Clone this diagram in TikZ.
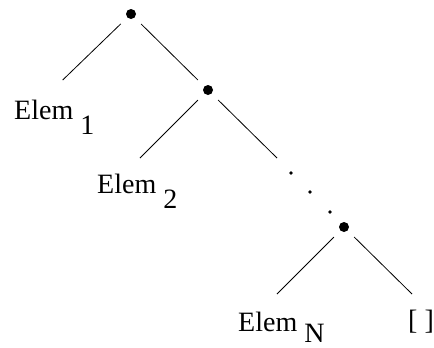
\documentclass[tikz,border=0pt]{standalone}
\usepackage{fontspec}
\setmainfont{Liberation Serif}
\usepackage{tikz}
\usetikzlibrary{positioning}

\begin{document}
\begin{tikzpicture}[
    x=1pt, y=-1pt,
    dot/.style={circle, fill=black, inner sep=0pt, minimum size=10pt},
    tinydot/.style={circle, fill=black, inner sep=0pt, minimum size=3.6pt},
    branch/.style={line width=0.8pt, shorten <=9pt},
    leaf/.style={anchor=base west, inner sep=0pt, font=\fontsize{28}{30}\selectfont}
]
    \useasboundingbox (0,0) rectangle (434,348);

    % cons cells
    \node[dot] (cons1) at (131,14) {};
    \node[dot] (cons2) at (208,90) {};
    \node[dot] (consN) at (344,227) {};

    % the dots in between
    \node[tinydot] (gap1) at (291,173) {};
    \node[tinydot] (gap2) at (310,192) {};
    \node[tinydot] (gap3) at (330,212) {};

    % free ends of the branches
    \coordinate (end1) at (62.7,80);
    \coordinate (end2) at (140,158);
    \coordinate (endrest) at (277,158);
    \coordinate (endN) at (277,294);
    \coordinate (endnil) at (412,294);

    % leaves
    \node[leaf] (elem1) at (14,119) {Elem \raisebox{-15pt}{1}};
    \node[leaf] (elem2) at (97,193) {Elem \raisebox{-15pt}{2}};
    \node[leaf] (elemN) at (238,331) {Elem \raisebox{-11pt}{N}};
    \node[leaf] (nil) at (408,329) {[ ]};

    \draw[branch] (cons1) -- (end1);
    \draw[branch, shorten >=9pt] (cons1) -- (cons2);
    \draw[branch] (cons2) -- (end2);
    \draw[branch] (cons2) -- (endrest);
    \draw[branch] (consN) -- (endN);
    \draw[branch] (consN) -- (endnil);
\end{tikzpicture}
\end{document}
